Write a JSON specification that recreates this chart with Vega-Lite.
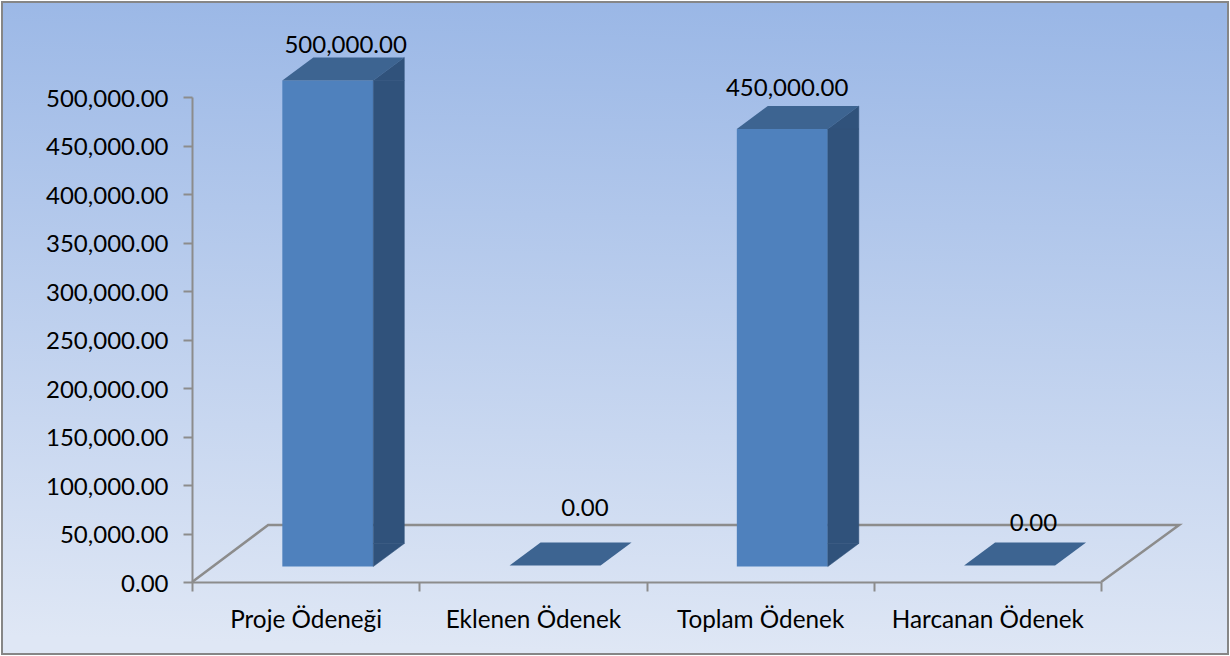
{
  "$schema": "https://vega.github.io/schema/vega-lite/v6.json",
  "width": 1226, "height": 652, "padding": 2, "autosize": "none",
  "background": "#ffffff",
  "config": {
    "view": {"stroke": "#868686", "strokeWidth": 2,
      "fill": {"gradient": "linear", "x1": 0.55, "y1": 1, "x2": 0.6, "y2": 0,
        "stops": [{"offset": 0, "color": "#dfe7f5"}, {"offset": 1, "color": "#9ab7e6"}]}},
    "font": "Lato", "text": {"font": "Lato", "fontSize": 24, "color": "#000000"}
  },
  "data": {"values": [
    {"kalem": "Proje Ödeneği", "tutar": 500000},
    {"kalem": "Eklenen Ödenek", "tutar": 0},
    {"kalem": "Toplam Ödenek", "tutar": 450000},
    {"kalem": "Harcanan Ödenek", "tutar": 0}
  ]},
  "encoding": {
    "x": {"field": "kalem", "type": "nominal", "sort": null,
      "scale": {"domain": ["Proje Ödeneği", "Eklenen Ödenek", "Toplam Ödenek", "Harcanan Ödenek"], "range": [190, 1099], "paddingInner": 0, "paddingOuter": 0},
      "axis": {"title": null, "offset": -72, "orient": "bottom", "labelAngle": 0, "labelFont": "Lato", "labelFontSize": 24.3, "labelColor": "#000000", "labelPadding": 17, "labelLimit": 400, "domainColor": "#8c8c8c", "domainWidth": 2, "tickColor": "#8c8c8c", "tickWidth": 2, "tickSize": 9, "tickBand": "extent", "grid": false}},
    "y": {"field": "tutar", "type": "quantitative",
      "scale": {"domain": [0, 500000], "range": [580, 95], "nice": false},
      "axis": {"title": null, "offset": -190, "orient": "left", "values": [0,50000,100000,150000,200000,250000,300000,350000,400000,450000,500000], "format": ",.2f", "labelFont": "Lato", "labelFontSize": 24, "labelColor": "#000000", "labelPadding": 15, "labelOffset": 2, "labelLimit": 400, "domainColor": "#8c8c8c", "domainWidth": 2, "tickColor": "#8c8c8c", "tickWidth": 2, "tickSize": 9, "grid": false}}
  },
  "layer": [
    {"mark": {"type": "point", "filled": false, "stroke": "#8c8c8c", "strokeWidth": 2.5, "opacity": 1, "size": 4,
      "shape": "M0,0 L76,-57 L987,-57 L909,0", "xOffset": -113.5},
      "transform": [{"filter": "datum.kalem === 'Proje Ödeneği'"}],
      "encoding": {"y": {"datum": 0}}},
    {"transform": [{"filter": "datum.tutar > 0"}],
      "mark": {"type": "bar", "width": 91, "fill": "#4f81bd", "xOffset": 22.2, "yOffset": -16.5, "y2Offset": -15.5},
      "encoding": {"y2": {"datum": 0}}},
    {"transform": [{"filter": "datum.tutar > 0"}],
      "mark": {"type": "bar", "width": 31, "fill": "#30527b", "stroke": "#30527b", "strokeWidth": 0.5, "xOffset": 83.2, "yOffset": -16.5, "y2Offset": -38.5},
      "encoding": {"y2": {"datum": 0}}},
    {"transform": [{"filter": "datum.tutar > 0"}],
      "mark": {"type": "point", "filled": true, "fill": "#30527b", "stroke": "#30527b", "strokeWidth": 0.5, "opacity": 1, "size": 4,
        "shape": "M0,0 L31,-23 L0,-23 Z", "xOffset": 67.7, "yOffset": -15.5},
      "encoding": {"y": {"datum": 0}}},
    {"transform": [{"filter": "datum.tutar > 0"}],
      "mark": {"type": "point", "filled": true, "fill": "#30527b", "stroke": "#30527b", "strokeWidth": 0.5, "opacity": 1, "size": 4,
        "shape": "M0,0 L31,-23 L31,0 Z", "xOffset": 67.7, "yOffset": -16.5}},
    {"mark": {"type": "point", "filled": true, "fill": "#3d6491", "opacity": 1, "size": 4,
      "shape": "M0,0 L31,-23 L122,-23 L91,0 Z", "xOffset": -23.3, "yOffset": -16.5}},
    {"transform": [{"filter": "datum.kalem === 'Proje Ödeneği'"}],
      "mark": {"type": "text", "dx": 40, "dy": -51},
      "encoding": {"text": {"field": "tutar", "format": ",.2f"}}},
    {"transform": [{"filter": "datum.kalem === 'Toplam Ödenek'"}],
      "mark": {"type": "text", "dx": 27, "dy": -56.5},
      "encoding": {"text": {"field": "tutar", "format": ",.2f"}}},
    {"transform": [{"filter": "datum.kalem === 'Eklenen Ödenek'"}],
      "mark": {"type": "text", "dx": 52, "dy": -73},
      "encoding": {"text": {"field": "tutar", "format": ",.2f"}}},
    {"transform": [{"filter": "datum.kalem === 'Harcanan Ödenek'"}],
      "mark": {"type": "text", "dx": 46, "dy": -58},
      "encoding": {"text": {"field": "tutar", "format": ",.2f"}}}
  ]
}
